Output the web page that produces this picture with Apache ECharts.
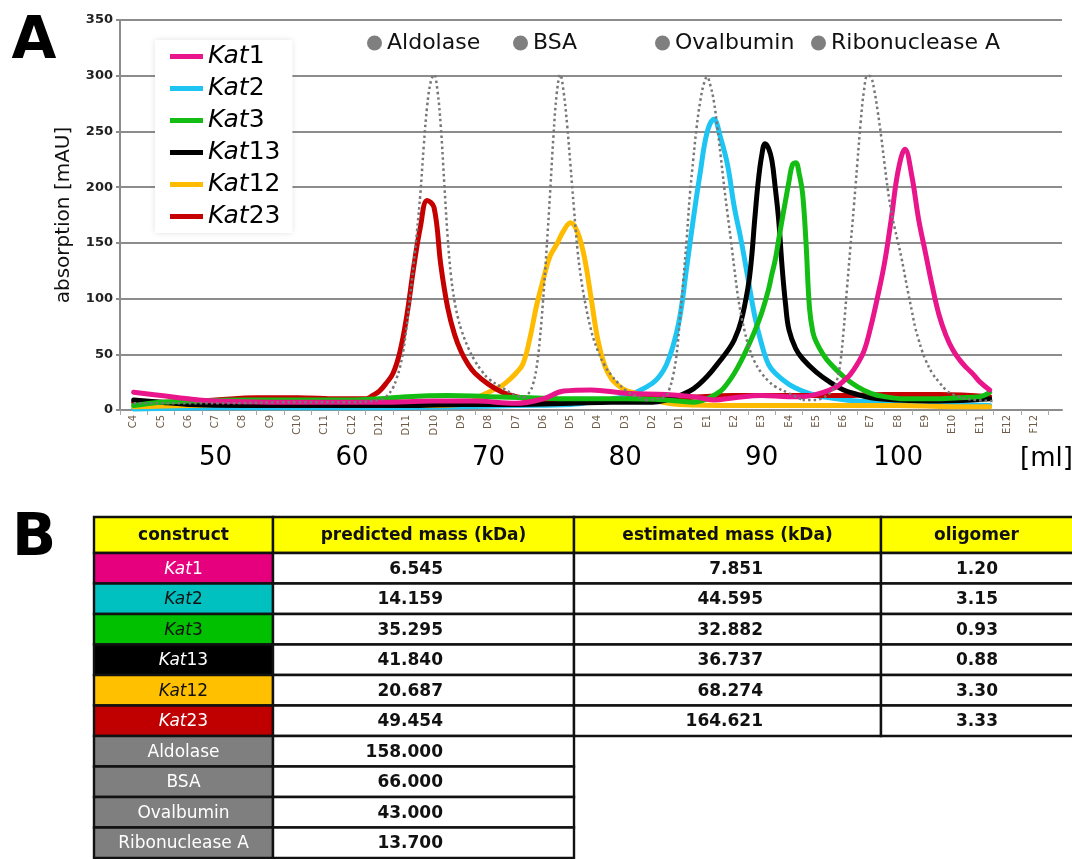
<!DOCTYPE html>
<html>
<head>
<meta charset="utf-8">
<script src="https://cdn.jsdelivr.net/npm/echarts@6/dist/echarts.min.js"></script>
<style>
html, body { margin: 0; padding: 0; background: #fff; }
#chart { width: 1072px; height: 859px; }
</style>
</head>
<body>
<div id="chart"></div>
<script>
// Fraction names along the elution axis (one fraction every 2 ml, first at 44 ml)
const fractions = ['C4','C5','C6','C7','C8','C9','C10','C11','C12',
  'D12','D11','D10','D9','D8','D7','D6','D5','D4','D3','D2','D1',
  'E1','E2','E3','E4','E5','E6','E7','E8','E9','E10','E11','E12','F12'];
const fractionStart = 44;
const fractionStep = 2;
const mlTicks = [50, 60, 70, 80, 90, 100];

// Elution profiles: [volume (ml), absorption (mAU)]
const kat1 = [[44,16],[46,13],[48,10],[50,8],[54,7],[58,7],[62,7],[66,8],[69,8],[72,6],[74,10],[75.5,17],[77.5,18],[80,15],[83,14],[85,12],[86.5,9],[88,11],[90,13],[92,12],[93,12],[94,14],[95,18],[95.5,21],[96,26],[96.5,32],[97,41],[97.5,53],[98,75],[98.5,102],[99,132],[99.5,172],[100,215],[100.5,234],[101,210],[101.5,171],[102,141],[102.5,111],[103,85],[103.5,67],[104,54],[104.5,45],[105,38],[105.5,32],[106,25],[106.7,18]];
const kat2 = [[44,1],[50,2],[56,2],[62,2],[68,3],[72,4],[76,5],[78,8],[79,10],[80,12],[81,17],[82,24],[82.5,30],[83,40],[83.5,57],[84,83],[84.5,127],[85,172],[85.5,213],[86,249],[86.5,261],[87,244],[87.5,220],[88,182],[88.5,152],[89,118],[89.5,84],[90,59],[90.5,41],[91,33],[92,23],[93,17],[94,13],[95,11],[97,8],[100,6],[104,5],[106.7,4]];
const kat3 = [[44,4],[46,7],[48,8],[52,9],[56,9],[60,9],[62,10],[64,12],[67,13],[70,12],[73,11],[76,10],[80,10],[83,9],[85,7],[86,10],[87,17],[87.5,24],[88,33],[88.5,44],[89,57],[89.5,71],[90,87],[90.5,108],[90.75,122],[91,135],[91.25,153],[91.5,171],[91.75,188],[92,205],[92.25,220],[92.5,222],[92.75,212],[93,194],[93.25,150],[93.5,92],[93.75,70],[94,61],[94.5,50],[95,42],[96,30],[97,21],[98,15],[99,12],[100.5,10],[102.5,10],[104.5,11],[106,12],[106.7,16]];
const kat13 = [[44,9],[46,7],[48,5],[52,4],[56,4],[60,4],[64,4],[68,5],[72,5],[76,6],[79,7],[81,7],[82,7],[83,9],[84,13],[85,19],[86,30],[87,45],[87.5,53],[88,63],[88.5,80],[89,110],[89.25,135],[89.5,172],[89.75,205],[90,228],[90.25,239],[90.5,235],[90.75,224],[91,199],[91.25,170],[91.5,128],[91.75,95],[92,72],[92.5,55],[93,46],[94,34],[95,25],[96,18],[97,14],[98,11],[100,9],[103,8],[106.7,10]];
const kat12 = [[44,3],[48,4],[52,6],[55,10],[58,7],[62,5],[66,4],[68,5],[68.5,6],[69,9],[69.5,13],[70,16],[70.5,19],[71,22],[71.5,27],[72,33],[72.5,41],[73,63],[73.5,93],[74,117],[74.5,138],[75,149],[75.5,161],[76,168],[76.5,160],[77,138],[77.5,101],[78,63],[78.5,40],[79,28],[79.5,22],[80,18],[81,14],[82,9],[84,5],[88,4],[92,4],[96,4],[100,4],[104,3],[106.7,3]];
const kat23 = [[44,7],[47,7],[50,9],[53,11],[56,11],[59,10],[60.5,10],[61,10],[61.5,13],[62,17],[62.5,24],[63,33],[63.5,52],[64,84],[64.5,127],[65,164],[65.5,188],[66,182],[66.5,130],[67,92],[67.5,68],[68,52],[68.5,41],[69,33],[70,23],[71,16],[72,12],[73,10],[75,9],[78,9],[81,10],[84,11],[88,13],[92,13],[96,13],[99,14],[103,14],[106.7,12]];

// Calibration standards (dotted traces)
const aldolase = [[44,6],[50,6],[56,7],[60,7],[62,9],[62.5,12],[63,20],[63.25,28],[63.5,38],[63.75,53],[64,75],[64.25,102],[64.5,130],[64.75,160],[65,194],[65.25,237],[65.5,273],[65.75,294],[66,301],[66.25,287],[66.5,254],[66.75,204],[67,155],[67.25,120],[67.5,98],[67.75,83],[68,72],[68.5,56],[69,44],[69.5,35],[70,28],[71,20],[72,13],[72.6,11]];
const bsa = [[72.6,11],[73,16],[73.25,23],[73.5,37],[73.75,63],[74,100],[74.25,145],[74.5,194],[74.75,246],[75,285],[75.25,301],[75.5,285],[75.75,256],[76,219],[76.25,181],[76.5,145],[76.75,120],[77,101],[77.5,72],[78,53],[78.5,40],[79,31],[79.5,24],[80,18],[80.5,14],[81.5,9]];
const ovalbumin = [[81.5,9],[82.5,10],[83,13],[83.25,19],[83.5,30],[83.75,48],[84,79],[84.25,115],[84.5,152],[84.75,194],[85,226],[85.25,255],[85.5,277],[85.75,292],[86,299],[86.25,291],[86.5,277],[86.75,254],[87,228],[87.25,201],[87.5,176],[87.75,152],[88,127],[88.25,103],[88.5,85],[88.75,71],[89,59],[89.5,43],[90,33],[90.5,26],[91,21],[92,15],[93,9]];
const ribonucleaseA = [[93,9],[94,9],[94.5,11],[95,15],[95.25,19],[95.5,26],[95.75,41],[96,71],[96.25,109],[96.5,146],[96.75,182],[97,220],[97.25,258],[97.5,287],[97.75,300],[98,299],[98.25,287],[98.5,268],[98.75,246],[99,221],[99.25,197],[99.5,178],[99.75,163],[100,150],[100.25,136],[100.5,120],[100.75,104],[101,89],[101.25,74],[101.5,63],[101.75,53],[102,45],[102.5,33],[103,25],[103.5,18],[104,14],[105,10],[107,8]];

// Table values
const tableHeader = ['construct', 'predicted mass (kDa)', 'estimated mass (kDa)', 'oligomer'];
const constructs = ['Kat1', 'Kat2', 'Kat3', 'Kat13', 'Kat12', 'Kat23'];
const predictedMass = ['6.545', '14.159', '35.295', '41.840', '20.687', '49.454'];
const estimatedMass = ['7.851', '44.595', '32.882', '36.737', '68.274', '164.621'];
const oligomer = ['1.20', '3.15', '0.93', '0.88', '3.30', '3.33'];
const standards = ['Aldolase', 'BSA', 'Ovalbumin', 'Ribonuclease A'];
const standardMass = ['158.000', '66.000', '43.000', '13.700'];

const FONT = '"DejaVu Sans", "Liberation Sans", Arial, sans-serif';
const lineColors = { Kat1: '#e8168a', Kat2: '#1ec5f3', Kat3: '#13bd13', Kat13: '#000000', Kat12: '#ffbb00', Kat23: '#c40000' };
const cellColors = ['#e6007e', '#00c0c0', '#00c000', '#000000', '#ffc000', '#c00000'];
const cellText = ['#ffffff', '#111111', '#111111', '#ffffff', '#111111', '#ffffff'];
const profiles = { Kat1: kat1, Kat2: kat2, Kat3: kat3, Kat13: kat13, Kat12: kat12, Kat23: kat23 };
const standardProfiles = [aldolase, bsa, ovalbumin, ribonucleaseA];

const fractionValues = fractions.map((f, i) => fractionStart + i * fractionStep);
const fractionBounds = [];
for (let i = 0; i <= fractions.length; i++) fractionBounds.push(fractionStart - fractionStep / 2 + i * fractionStep);

// Draw order: magenta above the other constructs, standards on top
const drawOrder = ['Kat2', 'Kat12', 'Kat23', 'Kat13', 'Kat3', 'Kat1'];
const series = drawOrder.map(name => ({
  name: name,
  type: 'line',
  data: profiles[name],
  smooth: 0.4,
  showSymbol: false,
  color: lineColors[name],
  lineStyle: { color: lineColors[name], width: 5, cap: 'round', join: 'round' },
  emphasis: { disabled: true },
  z: 3
}));
standards.forEach((name, i) => {
  series.push({
    name: name,
    type: 'line',
    data: standardProfiles[i],
    smooth: 0.4,
    showSymbol: false,
    color: '#808080',
    lineStyle: { color: '#777777', width: 2.5, type: [2.5, 3] },
    emphasis: { disabled: true },
    z: 4
  });
});

// Table drawn as graphic elements
const colX = [94, 273, 574, 881, 1080];
const headTop = 517, headH = 36, rowH = 30.5;
const bodyTop = headTop + headH;
const g = [];
function cell(c0, c1, top, h, fill) {
  g.push({ type: 'rect', shape: { x: colX[c0], y: top, width: colX[c1] - colX[c0], height: h },
    style: { fill: fill, stroke: '#111', lineWidth: 2.4 }, z: 10 });
}
function txt(s, x, y, opts) {
  g.push({ type: 'text', z: 11, style: Object.assign({ text: s, x: x, y: y, fill: '#111',
    fontFamily: FONT, fontSize: 17, fontWeight: 'bold', align: 'center', verticalAlign: 'middle' }, opts || {}) });
}
tableHeader.forEach((h, c) => {
  cell(c, c + 1, headTop, headH, '#ffff00');
  txt(h, (colX[c] + Math.min(colX[c + 1], 1072)) / 2, headTop + headH / 2 + 1);
});
constructs.forEach((name, i) => {
  const top = bodyTop + i * rowH, mid = top + rowH / 2 + 1;
  cell(0, 1, top, rowH, cellColors[i]);
  cell(1, 2, top, rowH, '#fff');
  cell(2, 3, top, rowH, '#fff');
  cell(3, 4, top, rowH, '#fff');
  g.push({ type: 'text', z: 11, style: {
    text: '{i|Kat}{n|' + name.slice(3) + '}', x: (colX[0] + colX[1]) / 2, y: mid,
    align: 'center', verticalAlign: 'middle',
    rich: {
      i: { fontFamily: FONT, fontSize: 17, fontStyle: 'italic', fill: cellText[i], color: cellText[i] },
      n: { fontFamily: FONT, fontSize: 17, fill: cellText[i], color: cellText[i] }
    } } });
  txt(predictedMass[i], 443, mid, { align: 'right' });
  txt(estimatedMass[i], 763, mid, { align: 'right' });
  txt(oligomer[i], 977, mid);
});
standards.forEach((name, j) => {
  const top = bodyTop + (constructs.length + j) * rowH, mid = top + rowH / 2 + 1;
  cell(0, 1, top, rowH, '#7f7f7f');
  cell(1, 2, top, rowH, '#fff');
  txt(name, (colX[0] + colX[1]) / 2, mid, { fill: '#fff', fontWeight: 'normal' });
  txt(standardMass[j], 443, mid, { align: 'right' });
});
// Panel letters and volume unit
g.push({ type: 'text', z: 11, style: { text: 'A', x: 34, y: 43, align: 'center', verticalAlign: 'middle', fontFamily: FONT, fontWeight: 'bold', fontSize: 58, fill: '#000' } });
g.push({ type: 'text', z: 11, style: { text: 'B', x: 34, y: 540, align: 'center', verticalAlign: 'middle', fontFamily: FONT, fontWeight: 'bold', fontSize: 58, fill: '#000' } });
g.push({ type: 'text', z: 11, style: { text: '[ml]', x: 1020, y: 459, align: 'left', verticalAlign: 'middle', fontFamily: FONT, fontSize: 26, fill: '#000' } });

const standardLegendLeft = [367, 513, 655, 811];
const legends = [{
  data: ['Kat1', 'Kat2', 'Kat3', 'Kat13', 'Kat12', 'Kat23'],
  orient: 'vertical',
  left: 155, top: 40,
  padding: [4, 12, 4, 15],
  itemGap: 7,
  itemWidth: 33, itemHeight: 5,
  icon: 'rect',
  selectedMode: false,
  backgroundColor: '#ffffff',
  shadowBlur: 6, shadowColor: 'rgba(0,0,0,0.12)',
  formatter: n => '{i|Kat}{n|' + n.slice(3) + '}',
  textStyle: { rich: {
    i: { fontFamily: FONT, fontStyle: 'italic', fontSize: 25, lineHeight: 26, color: '#000' },
    n: { fontFamily: FONT, fontSize: 25, lineHeight: 26, color: '#000' }
  } },
  z: 6
}];
standards.forEach((name, i) => legends.push({
  data: [name], left: standardLegendLeft[i], top: 32, padding: 0,
  icon: 'circle', itemWidth: 15, itemHeight: 15, selectedMode: false,
  itemStyle: { color: '#7f7f7f', borderWidth: 0 },
  textStyle: { fontFamily: FONT, fontSize: 22, color: '#111' }
}));

const chart = echarts.init(document.getElementById('chart'), null, { renderer: 'canvas' });
chart.setOption({
  animation: false,
  backgroundColor: '#fff',
  grid: { left: 120, right: 10, top: 20, bottom: 449, containLabel: false },
  legend: legends,
  xAxis: [{
    type: 'value', min: 43, max: 112,
    axisLine: { show: true, lineStyle: { color: '#8c8c8c', width: 2 } },
    axisTick: { show: true, customValues: fractionBounds, length: 5, lineStyle: { color: '#a8a8a8', width: 1 } },
    axisLabel: { customValues: fractionValues, rotate: 90, margin: 5, fontSize: 10, fontFamily: FONT, color: '#6e5c48',
      formatter: v => fractions[Math.round((v - fractionStart) / fractionStep)] },
    splitLine: { show: false }
  }, {
    type: 'value', min: 43, max: 112, position: 'bottom',
    axisLine: { show: false }, axisTick: { show: false }, splitLine: { show: false },
    axisLabel: { customValues: mlTicks, margin: 35, fontSize: 26, fontFamily: FONT, color: '#000' }
  }],
  yAxis: {
    type: 'value', min: 0, max: 350, interval: 50,
    name: 'absorption [mAU]', nameLocation: 'middle', nameGap: 46,
    nameTextStyle: { fontFamily: FONT, fontSize: 20, color: '#111' },
    axisLine: { show: true, lineStyle: { color: '#8c8c8c', width: 2 } },
    axisTick: { show: true, length: 4, lineStyle: { color: '#8c8c8c', width: 2 } },
    axisLabel: { fontFamily: FONT, fontSize: 13, fontWeight: 'bold', color: '#222', margin: 7 },
    splitLine: { lineStyle: { color: '#8c8c8c', width: 2 } }
  },
  series: series,
  graphic: g
});
</script>
</body>
</html>
